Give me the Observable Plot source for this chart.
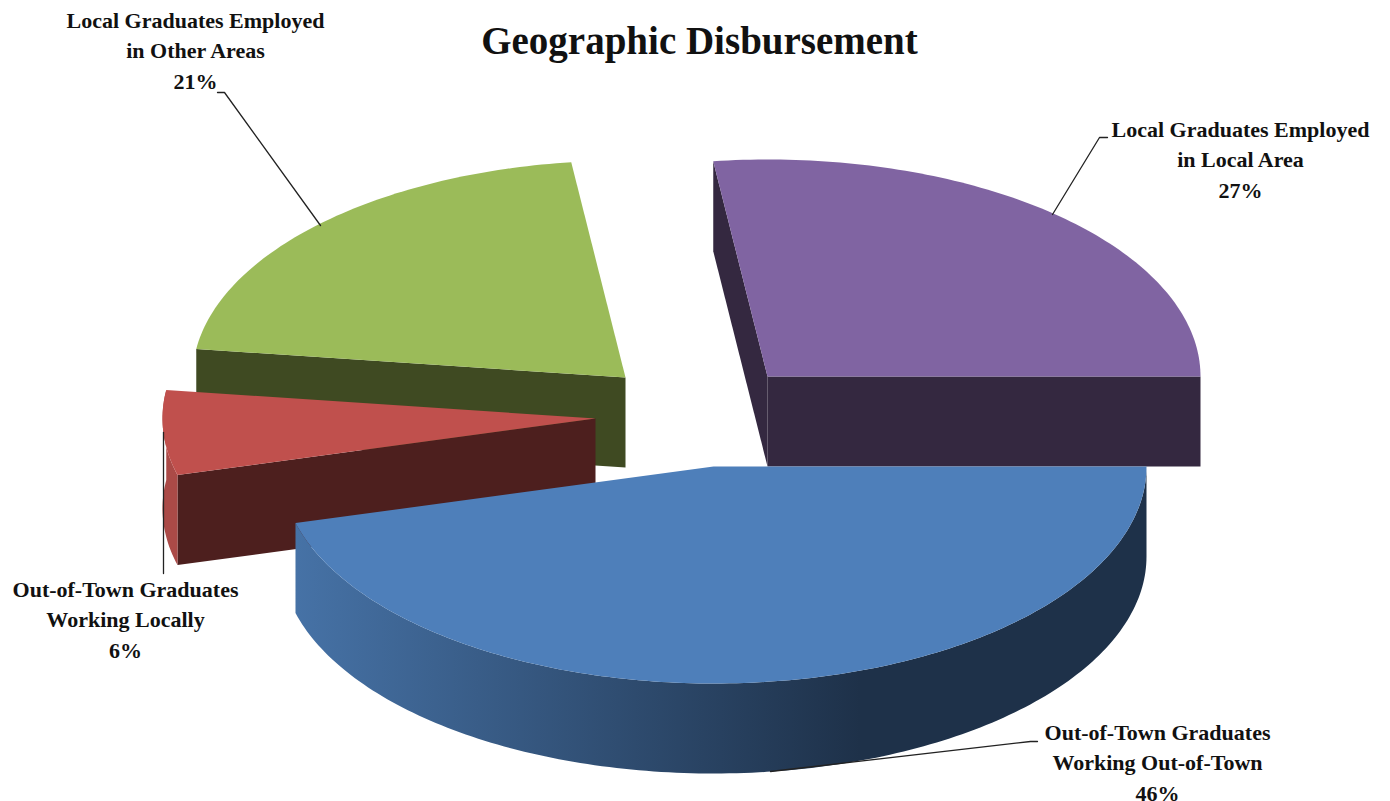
<!DOCTYPE html>
<html>
<head>
<meta charset="utf-8">
<script src="https://cdn.jsdelivr.net/npm/d3@7"></script>
<script src="https://cdn.jsdelivr.net/npm/@observablehq/plot@0.6"></script>
<style>html,body{margin:0;padding:0;background:#fff}svg{display:block}</style>
</head>
<body>
<div id="chart"></div>
<script>
// Data
const categories = [
  "Local Graduates Employed\nin Local Area",
  "Out-of-Town Graduates\nWorking Out-of-Town",
  "Out-of-Town Graduates\nWorking Locally",
  "Local Graduates Employed\nin Other Areas"
];
const shares = [27, 45.8, 6.3, 20.9];
const chartTitle = "Geographic Disbursement";

// Look
const topColors = ["#8064a2", "#4e7fba", "#c0504d", "#9bbb59"];
const sideColors = ["#342840", null, "#4d1f1e", "#3f4a22"];
const rimColors = [null, null, "#ab4a47", null];
const centers = [[767, 376], [713, 466], [595, 418], [625, 377]];
const labelAt = [[1240, 157], [1157, 760], [125, 617], [195, 48]];
const leaders = [
  [[1052, 214], [1099, 137], [1107, 137]],
  [[770, 771], [1030, 741], [1037, 741]],
  [[163, 432], [163, 573]],
  [[320, 225], [224, 92], [217, 92]]
];
const rx = 433, ry = 217, depth = 90;

// Angles, clockwise from the top, in the 3-D projection
const startAngle = 90 - shares[0] * 3.6;
let run = startAngle;
const spans = shares.map(s => { const a = run; run += s * 3.6; return [a, run]; });
const pt = (c, deg, dy = 0) => {
  const t = deg * Math.PI / 180;
  return [c[0] + rx * Math.sin(t), c[1] - ry * Math.cos(t) + dy];
};
const arc = (c, a0, a1, dy = 0, step = 1) => {
  const n = Math.max(1, Math.ceil(Math.abs(a1 - a0) / step)), out = [];
  for (let i = 0; i <= n; i++) out.push(pt(c, a0 + (a1 - a0) * i / n, dy));
  return out;
};
const rows = [];
let pid = 0;
const poly = (points, color) => {
  const id = pid++;
  for (const p of points) rows.push({x: p[0], y: p[1], id, color});
};
const extrude = (c, deg, color) => {
  const e = pt(c, deg), e2 = pt(c, deg, depth);
  poly([c, e, e2, [c[0], c[1] + depth]], color);
};

// back to front: green, red, purple, blue
extrude(centers[3], spans[3][0], sideColors[3]);
poly([centers[3], ...arc(centers[3], spans[3][0], spans[3][1])], topColors[3]);
extrude(centers[2], spans[2][0], sideColors[2]);
poly([...arc(centers[2], spans[2][0], spans[2][1]), ...arc(centers[2], spans[2][1], spans[2][0], depth)], rimColors[2]);
poly([centers[2], ...arc(centers[2], spans[2][0], spans[2][1])], topColors[2]);
extrude(centers[0], spans[0][0], sideColors[0]);
extrude(centers[0], spans[0][1], sideColors[0]);
poly([centers[0], ...arc(centers[0], spans[0][0], spans[0][1])], topColors[0]);
const [b0, b1] = spans[1];
poly([...arc(centers[1], b0, b1), ...arc(centers[1], b1, b0, depth)], "url(#rimShade)");
poly([centers[1], ...arc(centers[1], b0, b1)], topColors[1]);

const labels = categories.map((c, i) => ({
  text: `${c}\n${Math.round(shares[i])}%`, x: labelAt[i][0], y: labelAt[i][1]
}));
const leaderRows = leaders.flatMap((l, i) => l.map(p => ({x: p[0], y: p[1], i})));

// horizontal shade of the blue rim
const rimShade = () => {
  const defs = d3.create("svg:defs");
  const g = defs.append("linearGradient").attr("id", "rimShade")
    .attr("gradientUnits", "userSpaceOnUse")
    .attr("x1", 295).attr("x2", 860).attr("y1", 0).attr("y2", 0);
  g.append("stop").attr("offset", 0).attr("stop-color", "#4672a6");
  g.append("stop").attr("offset", 1).attr("stop-color", "#1e3149");
  return defs.node();
};

const chart = Plot.plot({
  width: 1390, height: 801,
  margin: 0,
  x: {domain: [0, 1390], range: [0, 1390], axis: null},
  y: {domain: [0, 801], range: [0, 801], axis: null},
  color: {type: "identity"},
  style: {background: "#fff", fontFamily: "'Liberation Serif', serif"},
  marks: [
    rimShade,
    Plot.line(rows, {x: "x", y: "y", z: "id", fill: "color", stroke: null, curve: "linear-closed"}),
    Plot.line(leaderRows, {x: "x", y: "y", z: "i", stroke: "#222", strokeWidth: 1.3}),
    Plot.text(labels, {x: "x", y: "y", text: "text", fontSize: 22, fontWeight: "bold", fill: "#111", lineHeight: 1.38, lineAnchor: "middle", textAnchor: "middle"}),
    Plot.text([chartTitle], {x: () => 699, y: () => 41, text: d => d, fontSize: 39, fontWeight: "bold", fill: "#111", lineAnchor: "middle", textAnchor: "middle"})
  ]
});
document.getElementById("chart").append(chart);
</script>
</body>
</html>
